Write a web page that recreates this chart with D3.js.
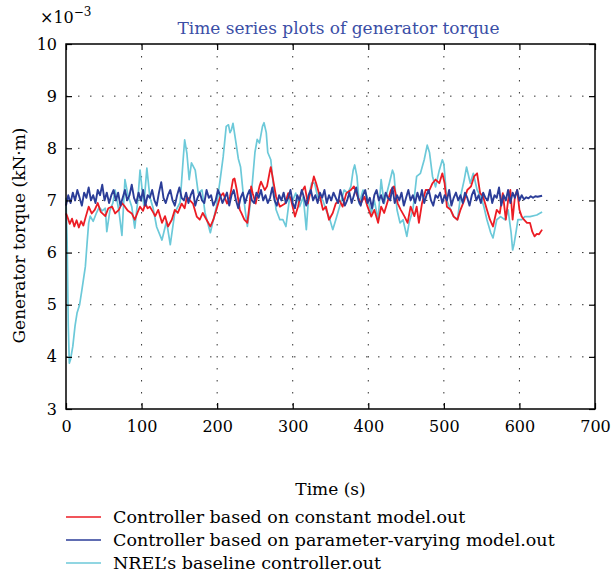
<!DOCTYPE html>
<html>
<head>
<meta charset="utf-8">
<script src="https://cdn.jsdelivr.net/npm/d3@7"></script>
<style>
  html, body { margin: 0; padding: 0; background: #fff; }
  svg text { font-family: "DejaVu Serif", "Liberation Serif", serif; }
</style>
</head>
<body>
<div id="chart"></div>
<script>
// ── Data (torque in units of 1e-3 kN·m, time in s) ─────────────
const xTicks = [0, 100, 200, 300, 400, 500, 600, 700];
const yTicks = [3, 4, 5, 6, 7, 8, 9, 10];

const seriesNames = [
  "Controller based on constant model.out",
  "Controller based on parameter-varying model.out",
  "NREL\u2019s baseline controller.out"
];

// constant model controller  [t, value]
const redData = [
  [0,6.75],[1.5,6.7],[5,6.55],[8,6.65],[11,6.5],[14,6.62],[17,6.48],[20,6.6],[23,6.52],[26,6.68],
  [30,6.88],[34,6.75],[38,6.82],[42,6.95],[46,6.78],[52,6.7],[56,6.85],[61,6.88],[65,6.75],[70,6.82],
  [74,6.95],[78,6.88],[82,6.8],[87,6.75],[91,6.63],[95,6.78],[98,6.88],[102,6.8],[105,6.94],[108,6.85],
  [111,6.88],[115,6.78],[118,6.7],[122,6.82],[127,6.57],[131,6.7],[135,6.5],[140,6.63],[144,6.82],[148,6.76],
  [153,6.94],[157,6.85],[160,7.07],[164,7.0],[168,6.94],[173,6.69],[177,6.63],[181,6.76],[186,6.63],[191,6.5],
  [195,6.63],[199,6.82],[204,7.07],[208,7.14],[213,6.94],[217,7.07],[221,7.4],[223,7.42],[226,7.2],[230,6.82],
  [232,6.76],[236,6.63],[240,6.57],[243,6.94],[245,7.27],[247,7.14],[251,6.94],[256,7.27],[258,7.36],[263,7.2],
  [266,7.27],[270,7.58],[271,7.64],[274,7.4],[278,7.07],[283,6.88],[290,6.94],[294,7.14],[298,7.0],[303,6.69],
  [307,6.88],[311,7.14],[316,7.27],[320,6.94],[324,7.2],[328,7.46],[331,7.33],[336,7.07],[340,6.82],[344,6.88],
  [348,6.63],[353,6.76],[357,6.94],[362,7.0],[366,6.88],[371,7.14],[377,7.2],[381,7.27],[386,7.07],[390,6.94],
  [395,7.07],[399,6.88],[404,6.69],[408,6.82],[413,6.57],[417,6.88],[421,6.76],[426,7.0],[430,7.2],[434,7.27],
  [439,6.94],[443,6.82],[448,6.69],[452,6.57],[456,6.88],[461,6.7],[464,6.88],[467,6.57],[471,6.94],[476,7.2],
  [481,7.2],[485,7.33],[489,7.4],[494,7.33],[498,7.52],[501,7.33],[504,6.88],[509,6.82],[513,6.69],[518,6.63],
  [522,6.82],[527,7.0],[531,7.2],[536,7.27],[540,7.46],[544,7.52],[548,7.14],[552,7.07],[557,6.82],[561,6.63],
  [565,6.5],[570,6.82],[574,6.75],[578,7.14],[582,6.63],[585,7.0],[588,7.2],[591,6.63],[594,7.07],[597,7.2],
  [600,6.82],[603,6.69],[606,6.63],[610,6.57],[614,6.57],[617,6.4],[620,6.31],[623,6.36],[626,6.35],[630,6.44]
];

// parameter-varying model controller, sampled every 3 s from t = 0
const blueStep = 3;
const blueValues = [
  6.9,7.1,6.95,7.15,7.0,7.2,7.05,6.9,7.15,7.05,7.25,7.0,7.1,6.95,7.2,7.1,7.3,7.0,7.15,6.95,
  7.1,7.2,7.0,7.15,6.9,7.05,7.2,7.0,7.1,7.3,7.05,6.95,7.15,7.0,7.2,6.9,7.1,7.05,7.2,7.0,
  6.9,7.15,7.35,7.05,6.95,7.1,7.2,7.0,6.9,7.1,7.25,7.05,7.0,7.15,6.95,7.1,7.2,6.9,7.05,7.15,
  7.0,6.95,7.2,7.05,7.1,6.9,7.0,7.2,7.1,6.95,7.05,7.15,6.9,7.1,7.2,7.0,6.85,7.05,7.15,6.95,
  7.1,7.2,7.0,6.95,7.15,7.05,7.2,7.0,7.1,6.95,7.05,7.25,7.0,6.9,7.1,7.0,7.15,6.95,7.05,7.2,
  6.95,6.85,7.1,7.0,7.2,7.05,6.9,7.1,7.2,7.0,7.1,6.95,7.15,7.05,7.2,6.95,7.1,7.0,7.15,7.05,
  6.95,7.2,7.05,6.9,7.0,7.15,6.95,7.1,7.25,7.0,6.9,7.1,7.2,6.95,7.05,6.85,7.1,7.2,7.0,7.1,
  6.95,7.15,7.05,7.0,7.25,6.95,7.1,7.0,7.15,6.9,7.05,7.2,7.0,7.1,6.95,7.15,7.0,7.2,6.95,7.1,
  7.2,7.0,6.9,7.1,7.05,7.15,6.95,7.1,7.0,7.2,6.9,7.05,7.15,7.0,7.1,6.95,7.15,7.05,6.9,7.1,
  7.2,7.0,7.1,6.95,7.15,7.05,7.0,7.2,6.95,7.1,7.05,7.25,6.9,7.1,7.0,7.2,6.95,7.15,7.05,7.2,
  7.0,7.1,7.02,7.06,7.04,7.08,7.05,7.08,7.07,7.08,7.09
];

// NREL baseline controller  [t, value]
const cyanData = [
  [0,7.05],[1.5,6.2],[3,4.6],[4.4,3.88],[6,3.95],[9,4.2],[12,4.6],[14.6,4.84],[18,5.0],[21,5.28],
  [25.6,5.73],[28,6.2],[30,6.57],[32,6.7],[36,6.6],[40,6.75],[44,6.87],[48,6.8],[52,6.85],[54,6.4],
  [58,6.8],[62,6.95],[65,7.2],[70,6.8],[74,6.33],[78,7.4],[82,7.1],[87,6.88],[91,6.47],[95,7.0],
  [98,7.58],[103,6.9],[107,7.62],[111,7.06],[115,6.87],[120,6.49],[127,6.24],[133,6.6],[138,6.15],[144,6.77],
  [151,6.96],[155,7.78],[157,8.16],[160,7.9],[163,7.4],[166,7.72],[171,7.58],[175,7.14],[180,7.2],[184,6.76],
  [191,6.38],[195,6.63],[199,6.88],[204,7.4],[208,7.84],[212,8.42],[215,8.45],[217,8.3],[219,8.36],[221,8.48],
  [225,8.1],[228,7.8],[231,7.64],[234,7.2],[237,6.82],[240,6.5],[245,7.07],[250,7.92],[253,8.17],[256,8.1],
  [260,8.42],[262,8.49],[265,8.3],[267,7.92],[271,7.78],[274,7.34],[278,6.82],[283,6.63],[287,6.63],[291,6.5],
  [296,7.07],[300,7.0],[304,7.14],[309,6.88],[314,7.07],[318,6.44],[321,7.07],[325,7.33],[329,7.33],[333,7.07],
  [340,7.0],[344,6.82],[348,6.69],[353,6.44],[357,6.63],[362,6.88],[368,7.2],[373,7.14],[377,7.27],[380,7.58],
  [382,7.68],[385,7.46],[388,6.94],[393,7.2],[397,7.14],[404,6.76],[408,7.0],[413,6.63],[417,7.4],[421,6.94],
  [428,7.34],[432,7.58],[434,7.5],[438,6.82],[442,6.57],[446,6.63],[451,6.31],[454,6.57],[459,6.82],[462,7.2],
  [464,7.46],[469,7.52],[474,7.78],[478,8.06],[481,7.92],[485,7.46],[489,7.26],[494,7.58],[498,7.78],[500,7.7],
  [504,7.0],[509,6.82],[513,6.69],[518,6.63],[522,7.07],[527,7.4],[530,7.64],[535,7.33],[539,7.52],[544,7.2],
  [549,7.07],[553,6.88],[557,6.63],[562,6.38],[565,6.28],[570,6.63],[575,6.69],[581,6.63],[585,6.82],[589,6.38],
  [591,6.05],[593,6.17],[596,6.44],[598,6.63],[603,6.63],[607,6.69],[614,6.69],[623,6.72],[630,6.78]
];

const colors = ["#ec1c24", "#2b3d98", "#6cc9d9"];

// ── Layout ──────────────────────────────────────────
const W = 612, H = 575;
const margin = { top: 44, right: 17, bottom: 166, left: 66 };
const width  = W - margin.left - margin.right;
const height = H - margin.top - margin.bottom;

const svg = d3.select("#chart").append("svg")
  .attr("width", W)
  .attr("height", H);

const g = svg.append("g")
  .attr("transform", `translate(${margin.left},${margin.top})`);

const x = d3.scaleLinear().domain([0, 700]).range([0, width]);
const y = d3.scaleLinear().domain([3, 10]).range([height, 0]);

// dotted grid
g.append("g")
  .selectAll("line.vg")
  .data(xTicks.slice(1, -1)).enter().append("line")
  .attr("x1", d => x(d)).attr("x2", d => x(d))
  .attr("y1", 0).attr("y2", height)
  .attr("stroke", "#333").attr("stroke-width", 1)
  .attr("stroke-dasharray", "1.5,10.5");

g.append("g")
  .selectAll("line.hg")
  .data(yTicks.slice(1, -1)).enter().append("line")
  .attr("x1", 0).attr("x2", width)
  .attr("y1", d => y(d)).attr("y2", d => y(d))
  .attr("stroke", "#333").attr("stroke-width", 1)
  .attr("stroke-dasharray", "1.5,10.5");

// series
const line = d3.line().x(d => x(d[0])).y(d => y(d[1]));
const blueData = blueValues.map((v, i) => [i * blueStep, v]);

[[cyanData, colors[2], 1.7], [redData, colors[0], 1.8], [blueData, colors[1], 1.9]].forEach(([data, col, sw]) => {
  g.append("path")
    .datum(data)
    .attr("fill", "none")
    .attr("stroke", col)
    .attr("stroke-width", sw)
    .attr("stroke-linejoin", "round")
    .attr("d", line);
});

// axes box with inward ticks
const tickLen = 6;
const axStyle = sel => {
  sel.select(".domain").remove();
  sel.selectAll(".tick line").attr("stroke", "#000").attr("stroke-width", 1.2);
  sel.selectAll(".tick text").attr("fill", "#000").style("font-size", "16px");
};

g.append("g")
  .attr("transform", `translate(0,${height})`)
  .call(d3.axisBottom(x).tickValues(xTicks).tickSize(-tickLen).tickPadding(12).tickFormat(d3.format("d")))
  .call(axStyle);

g.append("g")
  .call(d3.axisTop(x).tickValues(xTicks).tickSize(-tickLen).tickFormat(""))
  .call(axStyle);

g.append("g")
  .call(d3.axisLeft(y).tickValues(yTicks).tickSize(-tickLen).tickPadding(9).tickFormat(d3.format("d")))
  .call(axStyle);

g.append("g")
  .attr("transform", `translate(${width},0)`)
  .call(d3.axisRight(y).tickValues(yTicks).tickSize(-tickLen).tickFormat(""))
  .call(axStyle);

g.append("rect")
  .attr("width", width).attr("height", height)
  .attr("fill", "none").attr("stroke", "#000").attr("stroke-width", 1.5);

// exponent
const expo = svg.append("text")
  .attr("x", 40).attr("y", 23)
  .style("font-size", "16px").attr("fill", "#000");
expo.append("tspan").text("\u00d710");
expo.append("tspan").attr("dy", -7).style("font-size", "12px").text("\u22123");

// title
svg.append("text")
  .attr("x", margin.left + width / 2 + 8).attr("y", 34)
  .attr("text-anchor", "middle")
  .attr("fill", "#3a4ea6")
  .style("font-size", "17px")
  .text("Time series plots of generator torque");

// axis titles
svg.append("text")
  .attr("x", margin.left + x(350)).attr("y", 495)
  .attr("text-anchor", "middle")
  .style("font-size", "17px")
  .text("Time (s)");

svg.append("text")
  .attr("transform", `translate(25,${margin.top + height / 2 + 9}) rotate(-90)`)
  .attr("text-anchor", "middle")
  .style("font-size", "17px")
  .text("Generator torque (kN\u00b7m)");

// legend
const legend = svg.append("g").attr("transform", "translate(66,517)");
seriesNames.forEach((name, i) => {
  const row = legend.append("g").attr("transform", `translate(0,${i * 23})`);
  row.append("line")
    .attr("x1", 0).attr("x2", 35)
    .attr("stroke", colors[i]).attr("stroke-width", 1.4);
  row.append("text")
    .attr("x", 47).attr("y", 6)
    .style("font-size", "17.5px")
    .text(name);
});
</script>
</body>
</html>
